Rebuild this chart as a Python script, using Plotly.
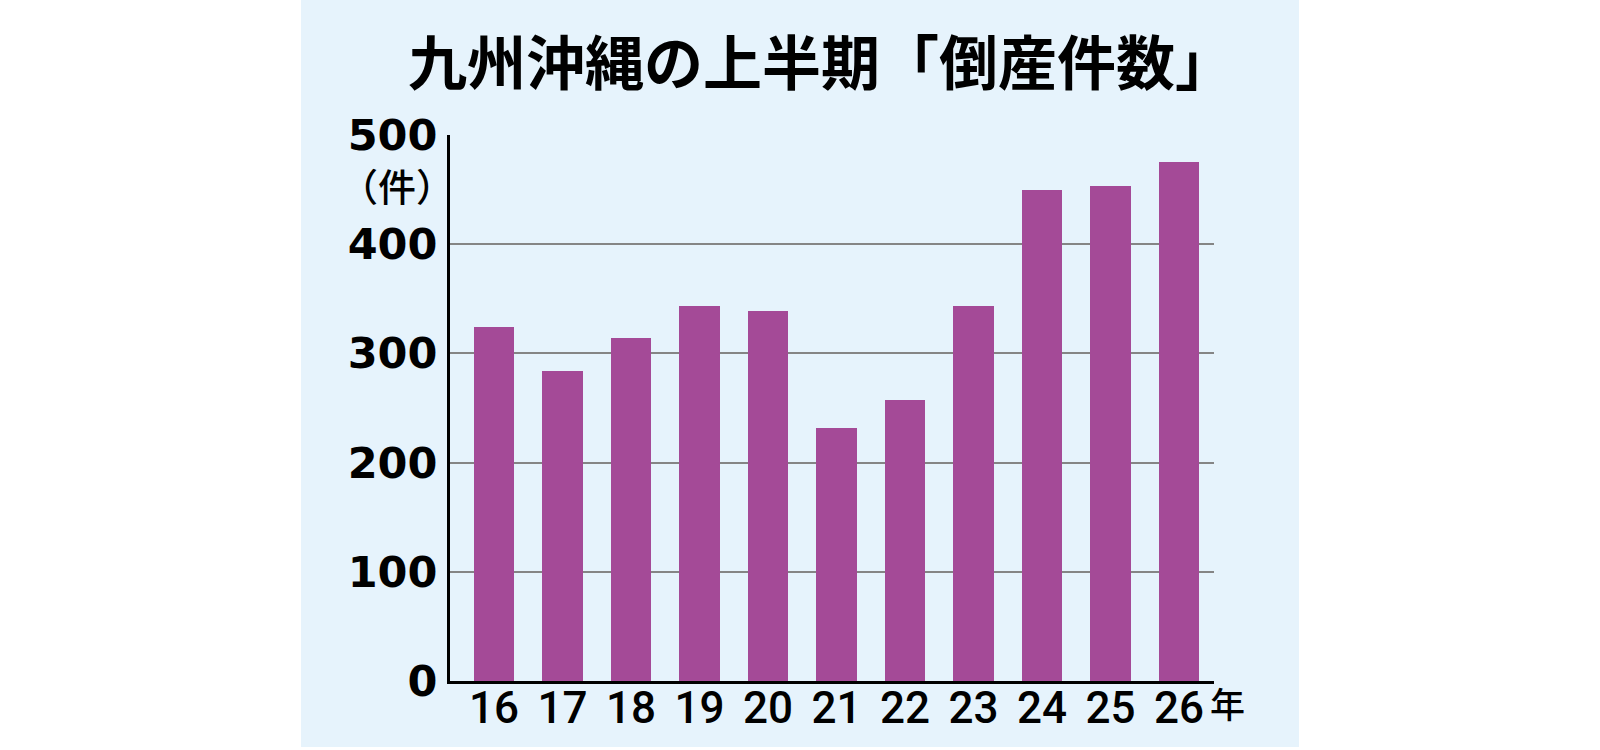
import plotly.graph_objects as go

years = ["16", "17", "18", "19", "20", "21", "22", "23", "24", "25", "26"]
counts = [324, 284, 314, 343, 339, 232, 257, 343, 450, 453, 475]
y_ticks = [0, 100, 200, 300, 400, 500]
title_text = "九州沖縄の上半期「倒産件数」"
unit_y = "（件）"
unit_x = "年"

W, H = 1600, 750
L, R, T, B = 450, 1214, 135, 681
pw, ph = R - L, B - T

def px(x):
    return (x - L) / pw

def py(y):
    return (B - y) / ph

fig = go.Figure()
fig.add_trace(go.Bar(
    x=years, y=counts, width=0.59,
    marker=dict(color="#A44A97", line=dict(width=0)),
    hoverinfo="x+y",
))

fig.update_layout(
    width=W, height=H,
    margin=dict(l=L, r=W - R, t=T, b=H - B, pad=0, autoexpand=False),
    paper_bgcolor="white",
    plot_bgcolor="rgba(0,0,0,0)",
    showlegend=False,
    bargap=0,
    xaxis=dict(
        type="category", range=[-0.642, 10.51], automargin=False,
        showline=True, linecolor="black", linewidth=3,
        showgrid=False, zeroline=False, ticks="",
        tickfont=dict(family="Roboto, Liberation Sans, sans-serif", size=44, color="black", weight=500),
        ticklabelstandoff=-14,
    ),
    yaxis=dict(
        range=[0, 500], tickvals=y_ticks, ticktext=[str(v) for v in y_ticks],
        automargin=False,
        showline=True, linecolor="black", linewidth=3,
        showgrid=True, gridcolor="#858585", gridwidth=2,
        zeroline=False, ticks="",
        tickfont=dict(family="DejaVu Sans, sans-serif", size=43, color="black", weight=700),
        ticklabelstandoff=1,
    ),
    shapes=[dict(
        type="rect", xref="paper", yref="paper", layer="below",
        x0=px(301), x1=px(1299), y0=py(747), y1=py(0),
        fillcolor="#E6F3FC", line=dict(width=0),
    )],
    annotations=[
        dict(text=title_text, xref="paper", yref="paper", x=px(821), y=py(59),
             xanchor="center", yanchor="middle", showarrow=False,
             font=dict(family="Noto Sans CJK JP", size=59, color="black", weight=700)),
        dict(text=unit_y, xref="paper", yref="paper", x=px(456), y=py(184),
             xanchor="right", yanchor="middle", showarrow=False,
             font=dict(family="Noto Sans CJK JP", size=38, color="black", weight=500)),
        dict(text=unit_x, xref="paper", yref="paper", x=px(1227), y=py(702),
             xanchor="center", yanchor="middle", showarrow=False,
             font=dict(family="Noto Sans CJK JP", size=35, color="black", weight=500)),
    ],
)

fig.write_html("out.html")
